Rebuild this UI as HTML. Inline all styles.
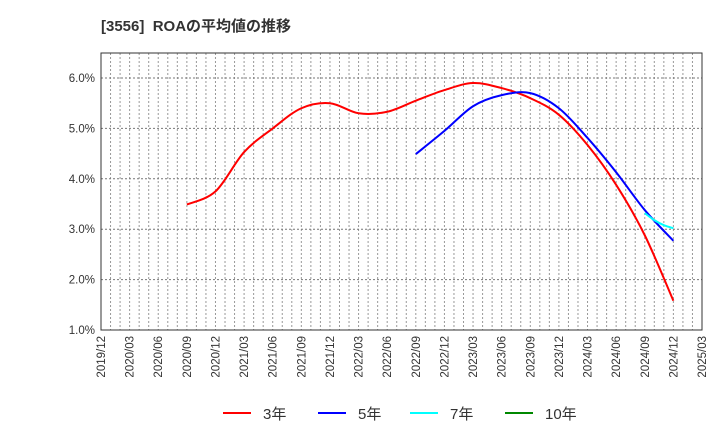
<!DOCTYPE html>
<html><head><meta charset="utf-8"><style>
body{margin:0;background:#fff;font-family:"Liberation Sans","Noto Sans CJK JP",sans-serif}
</style></head><body>
<svg id="c" width="720" height="440" xmlns="http://www.w3.org/2000/svg" font-family="Liberation Sans, Noto Sans CJK JP, sans-serif">
<text x="101" y="31" font-size="15" font-weight="bold" fill="#333">[3556]&#160; ROAの平均値の推移</text>
<g id="grid"></g><g id="axes"></g><g id="series"></g><g id="legend"></g>
</svg>
<script>
const xTicks=["2019/12","2020/03","2020/06","2020/09","2020/12","2021/03","2021/06","2021/09","2021/12","2022/03","2022/06","2022/09","2022/12","2023/03","2023/06","2023/09","2023/12","2024/03","2024/06","2024/09","2024/12","2025/03"];
const yTicks=[1,2,3,4,5,6];
const months3=[9,12,15,18,21,24,27,30,33,36,39,42,45,48,51,54,57,60];
const roa3=[3.49,3.75,4.53,5.0,5.4,5.5,5.3,5.33,5.55,5.76,5.9,5.8,5.6,5.27,4.67,3.88,2.88,1.58];
const months5=[33,36,39,42,45,48,51,54,57,60];
const roa5=[4.49,4.95,5.44,5.66,5.7,5.4,4.81,4.13,3.38,2.77];
const months7=[57,58,59,60];
const roa7=[3.32,3.18,3.08,3.02];
const NS="http://www.w3.org/2000/svg";
const L=101,R=702,T=53,B=330;
const x=m=>L+(R-L)*m/63;
const y=v=>B-(v-1)*(B-78)/5;
function mk(tag,attrs,parent){const e=document.createElementNS(NS,tag);for(const k in attrs)e.setAttribute(k,attrs[k]);document.getElementById(parent).appendChild(e);return e;}
for(let m=1;m<63;m++){const e=mk('line',{x1:x(m),x2:x(m),y1:T,y2:B,stroke:'#999','stroke-dasharray':'2,2','stroke-width':1},'grid');

}
yTicks.forEach(v=>{const e=mk('line',{x1:L,x2:R,y1:y(v),y2:y(v),stroke:'#777','stroke-dasharray':'2,2'},'grid');


const t=mk('text',{x:L-6,y:y(v)+4,'text-anchor':'end','font-size':11.5,fill:'#333'},'axes');t.textContent=v.toFixed(1)+'%';

});
const fr=mk('rect',{x:L,y:T,width:R-L,height:B-T,fill:'none',stroke:'#333'},'axes');


xTicks.forEach((s,i)=>{const xx=x(i*3);const t=mk('text',{x:xx+4,y:B+6,'text-anchor':'end','font-size':11.5,fill:'#333',transform:`rotate(-90 ${xx+4} ${B+6})`},'axes');t.textContent=s;

});
function path(ms,vs){const p=ms.map((m,i)=>[x(m),y(vs[i])]);let d=`M${p[0][0]},${p[0][1]}`;
for(let i=0;i<p.length-1;i++){const p0=p[i-1]||p[i],p1=p[i],p2=p[i+1],p3=p[i+2]||p2;
d+=` C${p1[0]+(p2[0]-p0[0])/6},${p1[1]+(p2[1]-p0[1])/6} ${p2[0]-(p3[0]-p1[0])/6},${p2[1]-(p3[1]-p1[1])/6} ${p2[0]},${p2[1]}`;}return d;}
[[months3,roa3,'#f00','series-3yr'],[months5,roa5,'#00f','series-5yr'],[months7,roa7,'#0ff','series-7yr']].forEach(s=>{
const e=mk('path',{d:path(s[0],s[1]),fill:'none',stroke:s[2],'stroke-width':2},'series');

});
[['3年','#f00',223],['5年','#00f',318],['7年','#0ff',410],['10年','#080',505]].forEach(l=>{
const g=mk('g',{},'legend');


const ln=document.createElementNS(NS,'line');[['x1',l[2]],['x2',l[2]+28],['y1',413],['y2',413],['stroke',l[1]],['stroke-width',2]].forEach(a=>ln.setAttribute(a[0],a[1]));g.appendChild(ln);
const t=document.createElementNS(NS,'text');t.setAttribute('x',l[2]+40);t.setAttribute('y',419);t.setAttribute('font-size',15);t.setAttribute('fill','#333');t.textContent=l[0];g.appendChild(t);});
</script>
</body></html>
